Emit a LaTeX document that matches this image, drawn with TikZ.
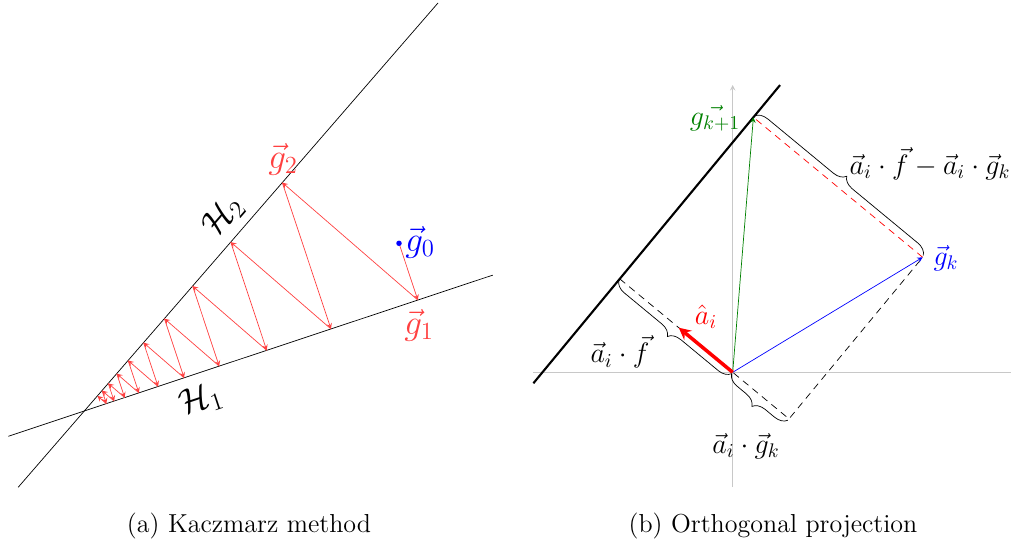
\RequirePackage{fix-cm}
\documentclass[tikz,border=0pt]{standalone}
\usepackage{amssymb, amsmath}
\usepackage{color}
\usepackage{tikz}
\usetikzlibrary{calc, decorations.pathreplacing}
\definecolor{zigred}{RGB}{255, 64, 64}
\definecolor{projgreen}{RGB}{0, 128, 0}
\definecolor{axisgray}{RGB}{200, 200, 200}

\begin{document}
\begin{tikzpicture}[scale=1.0,
  lbl/.style={font=\fontsize{16}{19}\selectfont},
  lblbig/.style={font=\fontsize{20}{24}\selectfont},
  captext/.style={font=\fontsize{14.8}{18}\selectfont, anchor=base},
  zig/.style={->, >=stealth, zigred},
  bracedraw/.style={decorate, decoration={brace, amplitude=7pt, raise=1pt}}]

  \useasboundingbox (0, 0) rectangle (20.22, 10.9);

  % (a) Kaczmarz method
  \coordinate (O1) at (1.686, 2.68);
  \coordinate (H1l) at ($(O1) + (198.4:1.60)$);
  \coordinate (H1r) at ($(O1) + (18.4:8.61)$);
  \coordinate (H2b) at ($(O1) + (229.08:2.02)$);
  \coordinate (H2t) at ($(O1) + (49.08:10.8)$);

  \draw (H1l) -- (H1r);
  \draw (H2b) -- (H2t);

  \coordinate (g0) at (7.98, 6.034);
  \foreach \i in {1,...,20} {
    \pgfmathtruncatemacro{\prev}{\i - 1}
    \ifodd\i
      \coordinate (g\i) at ($(O1)!(g\prev)!(H1r)$);
    \else
      \coordinate (g\i) at ($(O1)!(g\prev)!(H2t)$);
    \fi
    \draw[zig] (g\prev) -- (g\i);
  }
  \fill[blue] (g0) circle (0.055);

  \node[lblbig, blue] (lg0) at (8.4, 6.06) { $\vec{g}_0$ };
  \node[lblbig, zigred] (lg1) at (8.38, 4.4) { $\vec{g}_1$ };
  \node[lblbig, zigred] (lg2) at (5.66, 7.72) { $\vec{g}_2$ };
  \node[lblbig, rotate=49.08] (lH2) at (4.46, 6.58) { $\mathcal{H}_2$ };
  \node[lblbig, rotate=18.4] (lH1) at (4.02, 2.9) { $\mathcal{H}_1$ };

  \node[captext] (capa) at (4.98, 0.26) {(a) Kaczmarz method};

  % (b) Orthogonal projection
  \coordinate (O2) at (14.654, 3.454);
  \coordinate (ybot) at (14.654, 1.16);
  \coordinate (ytop) at (14.654, 9.2);
  \coordinate (xleft) at (10.66, 3.454);
  \coordinate (xright) at (20.35, 3.454);

  \draw[->, >=stealth, axisgray] (ybot) -- (ytop);
  \draw[->, >=stealth, axisgray] (xleft) -- (xright);

  \coordinate (F) at ($(O2) + (140.4:2.932)$);
  \coordinate (Ht) at ($(F) + (50.4:5.03)$);
  \coordinate (Hb) at ($(F) + (230.4:2.71)$);
  \coordinate (gk) at ($(O2) + (3.8, 2.3)$);
  \coordinate (gk1) at ($(Hb)!(gk)!(Ht)$);
  \coordinate (P) at ($(F)!(gk)!(O2)$);
  \coordinate (ahat) at ($(O2) + (140.4:1.4)$);

  \draw[line width=1.2pt] (Hb) -- (Ht);
  \draw[dash pattern=on 4pt off 3pt] (F) -- (P) -- (gk);
  \draw[dash pattern=on 4pt off 3pt, red] (gk) -- (gk1);
  \draw[->, >=stealth, blue] (O2) -- (gk);
  \draw[->, >=stealth, projgreen] (O2) -- (gk1);
  \draw[->, >=stealth, red, line width=2pt] (O2) -- (ahat);

  \draw[bracedraw] (O2) -- (F);
  \draw[bracedraw] (P) -- (O2);
  \draw[bracedraw] (gk1) -- (gk);

  \node[lbl] (laf) at (12.4, 3.86) { $\vec{a}_i \cdot \vec{f}$ };
  \node[lbl] (lag) at (14.92, 1.98) { $\vec{a}_i \cdot \vec{g}_k$ };
  \node[lbl] (ldiff) at (18.6, 7.63) { $\vec{a}_i \cdot \vec{f} - \vec{a}_i \cdot \vec{g}_k$ };
  \node[lbl, blue] (lgk) at (18.92, 5.74) { $\vec{g}_k$ };
  \node[lbl, red] (lahat) at (14.12, 4.56) { $\hat{a}_i$ };
  \node[lbl, projgreen] (lgk1) at (14.3, 8.54) { $\vec{g_{k+1}}$ };

  \node[captext] (capb) at (15.46, 0.26) {(b) Orthogonal projection};

\end{tikzpicture}
\end{document}
